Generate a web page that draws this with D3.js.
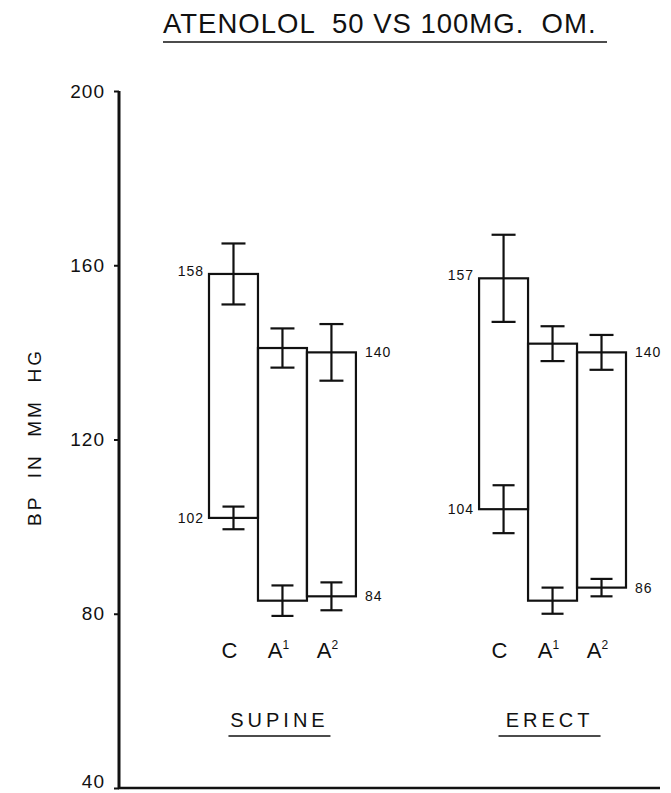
<!DOCTYPE html>
<html>
<head>
<meta charset="utf-8">
<script src="https://cdn.jsdelivr.net/npm/d3@7"></script>
<style>
  body { margin: 0; background: #fff; }
  svg { display: block; }
  text { font-family: 'Liberation Sans', Arial, sans-serif; fill: #111; }
  .bar { fill: none; stroke: #111; stroke-width: 2.2; }
  .err { stroke: #111; stroke-width: 2.2; }
</style>
</head>
<body>
<svg width="671" height="793"></svg>
<script>
const groups = ['SUPINE', 'ERECT']
const categories = ['C', 'A1', 'A2']
const systolic = [[158, 141, 140], [157, 142, 140]]
const diastolic = [[102, 83, 84], [104, 83, 86]]
const systolicErr = [[7, 4.5, 6.5], [10, 4, 4]]
const diastolicErr = [[2.6, 3.5, 3.2], [5.5, 3, 2]]
const yTicks = [40, 80, 120, 160, 200]

const svg = d3.select('svg')

const yScale = d3.scaleLinear()
  .domain([40, 200])
  .range([788, 91])

const xGroup = d3.scaleBand()
  .domain(groups)
  .range([209, 626])
  .paddingInner(0.456)
  .paddingOuter(0)

const xCat = d3.scaleBand()
  .domain(categories)
  .range([0, xGroup.bandwidth()])

const axisX = 119

// title
svg.append('text')
  .attr('x', 163)
  .attr('y', 33)
  .style('font-size', '27.5px')
  .style('letter-spacing', '1px')
  .attr('xml:space', 'preserve')
  .text('ATENOLOL  50 VS 100MG.  OM.')
svg.append('line')
  .attr('x1', 163).attr('x2', 607)
  .attr('y1', 42).attr('y2', 42)
  .style('stroke', '#111').style('stroke-width', 1.6)

// y axis
const yAxis = d3.axisLeft(yScale)
  .tickValues(yTicks)
  .tickSize(5)
  .tickPadding(9)
  .tickFormat(d => d)

const yAxisG = svg.append('g')
  .attr('transform', `translate(${axisX}, 0)`)
  .call(yAxis)
yAxisG.select('.domain').remove()
yAxisG.selectAll('.tick line').style('stroke', '#111').style('stroke-width', 2)
yAxisG.selectAll('.tick text')
  .style('font-size', '19px')
  .style('font-family', "'Liberation Sans', Arial, sans-serif")
  .style('fill', '#111')
  .style('letter-spacing', '1px')
// keep the lowest label inside the frame
yAxisG.selectAll('.tick')
  .filter(d => d === 40)
  .select('text')
  .attr('dy', '-0.02em')

svg.append('line')
  .attr('x1', axisX).attr('x2', axisX)
  .attr('y1', yScale(200)).attr('y2', yScale(40) + 1)
  .style('stroke', '#111').style('stroke-width', 3)
svg.append('line')
  .attr('x1', axisX - 1).attr('x2', 660)
  .attr('y1', yScale(40)).attr('y2', yScale(40))
  .style('stroke', '#111').style('stroke-width', 2.6)

svg.append('text')
  .attr('transform', `translate(41, ${437}) rotate(-90)`)
  .attr('text-anchor', 'middle')
  .style('font-size', '19px')
  .style('letter-spacing', '3px')
  .attr('xml:space', 'preserve')
  .text('BP  IN  MM  HG')

// bars
const rows = []
groups.forEach((g, gi) => {
  categories.forEach((c, ci) => {
    rows.push({
      group: g, cat: c, ci,
      top: systolic[gi][ci], bottom: diastolic[gi][ci],
      topErr: systolicErr[gi][ci], bottomErr: diastolicErr[gi][ci]
    })
  })
})

const bar = svg.selectAll('.bar-g')
  .data(rows)
  .enter()
  .append('g')
  .attr('class', 'bar-g')
  .attr('transform', d => `translate(${xGroup(d.group) + xCat(d.cat)}, 0)`)

bar.append('rect')
  .attr('class', 'bar')
  .attr('x', 0)
  .attr('y', d => yScale(d.top))
  .attr('width', xCat.bandwidth())
  .attr('height', d => yScale(d.bottom) - yScale(d.top))

const drawErr = (sel, val, err, capW) => {
  const cx = xCat.bandwidth() / 2
  sel.append('line').attr('class', 'err')
    .attr('x1', cx).attr('x2', cx)
    .attr('y1', d => yScale(val(d) + err(d))).attr('y2', d => yScale(val(d) - err(d)))
  sel.append('line').attr('class', 'err')
    .attr('x1', cx - capW / 2).attr('x2', cx + capW / 2)
    .attr('y1', d => yScale(val(d) + err(d))).attr('y2', d => yScale(val(d) + err(d)))
  sel.append('line').attr('class', 'err')
    .attr('x1', cx - capW / 2).attr('x2', cx + capW / 2)
    .attr('y1', d => yScale(val(d) - err(d))).attr('y2', d => yScale(val(d) - err(d)))
}
drawErr(bar, d => d.top, d => d.topErr, 24)
drawErr(bar, d => d.bottom, d => d.bottomErr, 22)

// value labels on C (left) and A2 (right)
bar.filter(d => d.ci === 0)
  .append('text')
  .attr('x', -5)
  .attr('text-anchor', 'end')
  .attr('y', d => yScale(d.top) + 2)
  .style('font-size', '14px')
  .style('letter-spacing', '1px')
  .text(d => d.top)
bar.filter(d => d.ci === 0)
  .append('text')
  .attr('x', -5)
  .attr('text-anchor', 'end')
  .attr('y', d => yScale(d.bottom) + 5)
  .style('font-size', '14px')
  .style('letter-spacing', '1px')
  .text(d => d.bottom)
bar.filter(d => d.ci === 2)
  .append('text')
  .attr('x', xCat.bandwidth() + 9)
  .attr('y', d => yScale(d.top) + 5)
  .style('font-size', '14px')
  .style('letter-spacing', '1px')
  .text(d => d.top)
bar.filter(d => d.ci === 2)
  .append('text')
  .attr('x', xCat.bandwidth() + 9)
  .attr('y', d => yScale(d.bottom) + 5)
  .style('font-size', '14px')
  .style('letter-spacing', '1px')
  .text(d => d.bottom)

// category labels
const catLabel = bar.append('text')
  .attr('x', xCat.bandwidth() / 2 - 4)
  .attr('y', 658)
  .attr('text-anchor', 'middle')
  .style('font-size', '22px')
catLabel.append('tspan').text(d => d.cat.charAt(0))
catLabel.filter(d => d.cat.length > 1)
  .append('tspan')
  .attr('dy', -9)
  .style('font-size', '12px')
  .text(d => d.cat.slice(1))

// group labels
const groupLabel = svg.selectAll('.group-label')
  .data(groups)
  .enter()
  .append('g')
  .attr('class', 'group-label')
  .attr('transform', d => `translate(${xGroup(d) + xGroup.bandwidth() / 2 - 3}, 0)`)

groupLabel.append('text')
  .attr('y', 727)
  .attr('text-anchor', 'middle')
  .style('font-size', '20px')
  .style('letter-spacing', '4px')
  .text(d => d)
groupLabel.append('line')
  .attr('x1', -51).attr('x2', 51)
  .attr('y1', 736).attr('y2', 736)
  .style('stroke', '#111').style('stroke-width', 1.6)
</script>
</body>
</html>
